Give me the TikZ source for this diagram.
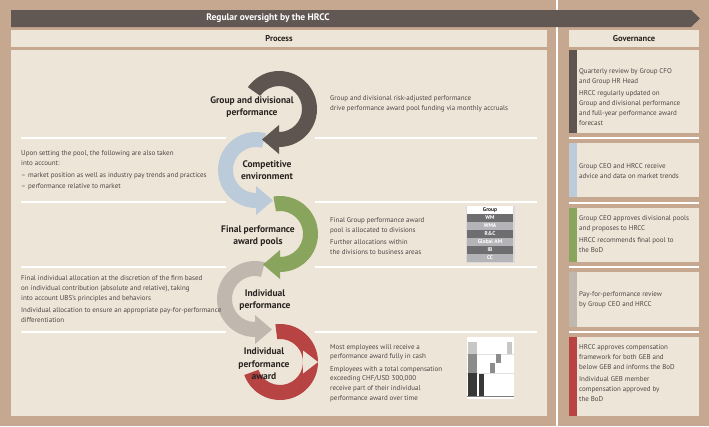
\documentclass[tikz,border=0pt]{standalone}
\usepackage{fontspec}
\setmainfont{PT Sans}

\definecolor{bgtan}{RGB}{198,168,144}
\definecolor{panel}{RGB}{238,229,217}
\definecolor{bardark}{RGB}{97,88,83}
\definecolor{ringdark}{RGB}{94,85,80}
\definecolor{ringblue}{RGB}{187,203,217}
\definecolor{ringgreen}{RGB}{137,165,93}
\definecolor{ringgray}{RGB}{192,184,174}
\definecolor{ringred}{RGB}{183,67,67}
\definecolor{bodytext}{RGB}{78,70,66}
\definecolor{labeltext}{RGB}{40,35,32}
\definecolor{tabdark}{RGB}{110,110,113}
\definecolor{tablight}{RGB}{180,180,184}

\begin{document}
\begin{tikzpicture}[x=1pt, y=-1pt,
  body/.style={font=\fontsize{7}{9.8}\selectfont, text=bodytext, align=left, anchor=west, inner sep=0pt},
  ringlabel/.style={font=\fontsize{9.5}{12.5}\selectfont\bfseries, text=labeltext, align=center, inner sep=0pt},
  colhead/.style={font=\fontsize{8.5}{10}\selectfont\bfseries, text=labeltext, inner sep=0pt},
  sepline/.style={white, line width=2pt},
  tabrow/.style={minimum width=46pt, minimum height=7.2pt, inner sep=0pt, text=white, font=\fontsize{5.5}{6}\selectfont\bfseries},
]
	\useasboundingbox (0,0) rectangle (709,426);
	\fill[bgtan] (0,0) rectangle (709,426);
	\draw[white, line width=2.5pt] (557,0) -- (557,426);
	
	% Oversight bar
	\fill[bardark] (11,10) -- (691,10) -- (700,18.5) -- (691,27) -- (11,27) -- cycle;
	\node[colhead, text=white, font=\fontsize{9.5}{11}\selectfont\bfseries] (oversight) at (268,18.5) {Regular oversight by the HRCC};
	
	% Column heads
	\fill[panel] (11,30) rectangle (547,47);
	\node[colhead] (process) at (279,38.5) {Process};
	\fill[panel] (569,30) rectangle (699,47);
	\node[colhead] (governance) at (634,38.5) {Governance};
	
	% Process panel
	\fill[panel] (11,50) rectangle (547,416);
	\foreach \y in {138,202,267,332} {
		\draw[sepline] (21,\y) -- (226,\y);
		\draw[sepline] (315,\y) -- (537,\y);
	}
	
	% Governance boxes
	\foreach \top/\bot/\col in {50/133/ringdark, 143/197/ringblue, 208/262/ringgreen, 272/327/ringgray, 337/416/ringred} {
		\fill[panel] (569,\top) rectangle (699,\bot);
		\fill[\col] (569,\top) rectangle (577,\bot);
	}
	\foreach \y in {138,202.5,267,332}
		\draw[sepline] (569,\y) -- (699,\y);
	
	% Rings, last one first
	\fill[ringred] (280,362) ++(-97:38) arc[start angle=-97, end angle=160, radius=38] -- ++(14.1,-5.13) arc[start angle=160, end angle=-97, radius=23] -- cycle;
	\fill[panel] (303,350.5) -- (318,362) -- (303,373.5) -- cycle;
	
	\fill[ringgray] (255,299) ++(-75:38) arc[start angle=-75, end angle=-270, radius=38] -- ++(0,7) -- ++(17,-14.5) -- ++(-17,-14.5) -- ++(0,7) arc[start angle=-270, end angle=-75, radius=23] -- cycle;
	
	\fill[ringgreen] (280,234) ++(-100:38) arc[start angle=-100, end angle=90, radius=38] -- ++(0,7) -- ++(-17,-14.5) -- ++(17,-14.5) -- ++(0,7) arc[start angle=90, end angle=-100, radius=23] -- cycle;
	
	\fill[ringblue] (256,170) ++(-75:38) arc[start angle=-75, end angle=-270, radius=38] -- ++(0,7) -- ++(17,-14.5) -- ++(-17,-14.5) -- ++(0,7) arc[start angle=-270, end angle=-75, radius=23] -- cycle;
	
	\fill[ringdark] (279,109) ++(-145:38) arc[start angle=-145, end angle=90, radius=38] -- ++(0,7) -- ++(-17,-14.5) -- ++(17,-14.5) -- ++(0,7) arc[start angle=90, end angle=-145, radius=23] -- cycle;
	
	% Ring labels
	\node[ringlabel] (lblGroup) at (252,107) {Group and divisional\\performance};
	\node[ringlabel] (lblComp) at (267,170) {Competitive\\environment};
	\node[ringlabel] (lblPools) at (258,236) {Final performance\\award pools};
	\node[ringlabel] (lblIndiv) at (265,300) {Individual\\performance};
	\node[ringlabel] (lblAward) at (264,364) {Individual\\performance\\award};
	
	% Process texts
	\node[body] (txtGroup) at (330,104) {Group and divisional risk-adjusted performance\\drive performance award pool funding via monthly accruals};
	\node[body] (txtComp) at (21,170) {Upon setting the pool, the following are also taken\\into account:\\[2.5pt]\makebox[7pt][l]{--}market position as well as industry pay trends and practices\\[1pt]\makebox[7pt][l]{--}performance relative to market};
	\node[body] (txtPools) at (330,236) {Final Group performance award\\pool is allocated to divisions\\[2.5pt]Further allocations within\\the divisions to business areas};
	\node[body] (txtIndiv) at (21,299) {Final individual allocation at the discretion of the firm based\\on individual contribution (absolute and relative), taking\\into account UBS’s principles and behaviors\\[2.5pt]Individual allocation to ensure an appropriate pay-for-performance\\differentiation};
	\node[body] (txtAward) at (330,373) {Most employees will receive a\\performance award fully in cash\\[2.5pt]Employees with a total compensation\\exceeding CHF/USD 300,000\\receive part of their individual\\performance award over time};
	
	% Group table
	\fill[black!15] (465.5,205.5) rectangle (514.5,262.5);
	\node[tabrow, fill=white, text=labeltext] (tabGroup) at (490,210) {Group};
	\foreach \lbl/\col [count=\i] in {WM/tabdark, WMA/tablight, R\&C/tabdark, Global AM/tablight, IB/tabdark, CC/tablight}
		\node[tabrow, fill=\col] (tab\i) at (490,210+8*\i) {\lbl};
	
	% Deferral chart
	\fill[white] (467,337) rectangle (514,399);
	\draw[black!12, line width=0.4pt] (467,354) -- (514,354) (467,373) -- (514,373);
	\fill[black!22] (468,342) rectangle (477,354);
	\fill[black!45] (468,354) rectangle (477,373);
	\fill[black!78] (468,373) rectangle (477,396);
	\fill[black!78] (479,374) rectangle (484,396);
	\fill[black!45] (490,363) rectangle (495,373);
	\fill[black!45] (496,354) rectangle (501,363);
	\fill[black!22] (507,342) rectangle (512,354);
	\draw[black!50, line width=0.4pt] (467,396.5) -- (514,396.5);
	
	% Governance texts
	\node[body] (gov1) at (579,97) {Quarterly review by Group CFO\\and Group HR Head\\[2.5pt]HRCC regularly updated on\\Group and divisional performance\\and full-year performance award\\forecast};
	\node[body] (gov2) at (579,171) {Group CEO and HRCC receive\\advice and data on market trends};
	\node[body] (gov3) at (579,234) {Group CEO approves divisional pools\\and proposes to HRCC\\[2.5pt]HRCC recommends final pool to\\the BoD};
	\node[body] (gov4) at (579,299.5) {Pay-for-performance review\\by Group CEO and HRCC};
	\node[body] (gov5) at (579,373) {HRCC approves compensation\\framework for both GEB and\\below GEB and informs the BoD\\[2.5pt]Individual GEB member\\compensation approved by\\the BoD};
	
\end{tikzpicture}
\end{document}
